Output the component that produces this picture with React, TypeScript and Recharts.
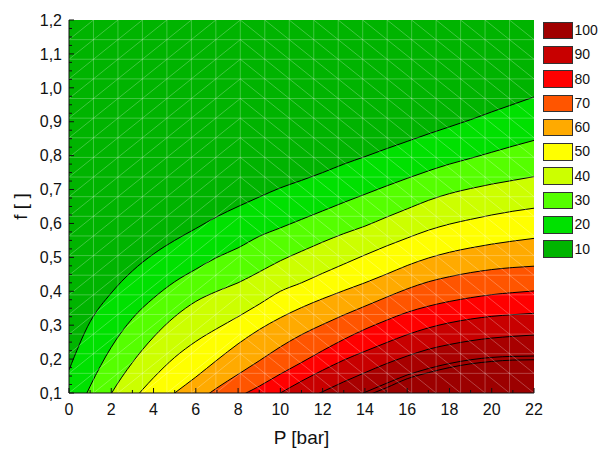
import React from 'react';
import { ComposedChart, Area, XAxis, YAxis, ReferenceLine, ReferenceArea, Legend } from 'recharts';

// ---- data ----
const pressure = [0, 1, 2, 3, 4, 5, 6, 7, 8, 9, 10, 11, 12, 13, 14, 15, 16, 17, 18, 19, 20, 21, 22];

// contour lines f(P) for each level (values below 0.1 fall outside the plotted range)
const c10 = [0.168, 0.31, 0.395, 0.46, 0.51, 0.55, 0.585, 0.62, 0.65, 0.678, 0.705, 0.727, 0.75, 0.775, 0.797, 0.82, 0.842, 0.864, 0.885, 0.906, 0.929, 0.951, 0.973];
const c20 = [-0.02, 0.12, 0.235, 0.32, 0.38, 0.428, 0.465, 0.5, 0.528, 0.562, 0.587, 0.612, 0.637, 0.662, 0.686, 0.71, 0.733, 0.755, 0.775, 0.792, 0.81, 0.828, 0.845];
const c30 = [-0.15, -0.02, 0.098, 0.19, 0.265, 0.325, 0.37, 0.4, 0.425, 0.457, 0.49, 0.518, 0.545, 0.57, 0.592, 0.618, 0.643, 0.668, 0.688, 0.703, 0.716, 0.727, 0.738];
const c40 = [-0.17, -0.09, -0.01, 0.075, 0.145, 0.205, 0.252, 0.29, 0.325, 0.362, 0.4, 0.425, 0.453, 0.48, 0.507, 0.533, 0.557, 0.58, 0.598, 0.612, 0.625, 0.636, 0.645];
const c50 = [-0.15, -0.1, -0.05, 0.0, 0.05, 0.1, 0.147, 0.197, 0.245, 0.287, 0.322, 0.352, 0.378, 0.402, 0.425, 0.45, 0.476, 0.498, 0.515, 0.528, 0.539, 0.548, 0.556];
const c60 = [-0.2, -0.16, -0.12, -0.08, -0.03, 0.02, 0.07, 0.115, 0.155, 0.195, 0.236, 0.272, 0.302, 0.33, 0.356, 0.382, 0.407, 0.428, 0.443, 0.455, 0.464, 0.47, 0.474];
const c70 = [-0.2, -0.17, -0.14, -0.11, -0.08, -0.045, -0.01, 0.045, 0.087, 0.12, 0.156, 0.19, 0.225, 0.258, 0.288, 0.314, 0.338, 0.356, 0.37, 0.381, 0.39, 0.396, 0.401];
const c80 = [-0.2, -0.18, -0.16, -0.14, -0.11, -0.08, -0.05, -0.01, 0.03, 0.065, 0.1, 0.135, 0.167, 0.197, 0.223, 0.248, 0.272, 0.292, 0.307, 0.318, 0.326, 0.331, 0.335];
const c90 = [-0.2, -0.19, -0.18, -0.17, -0.15, -0.13, -0.1, -0.07, -0.03, 0.01, 0.045, 0.074, 0.104, 0.133, 0.16, 0.186, 0.209, 0.229, 0.243, 0.254, 0.262, 0.267, 0.271];
const c100 = [-0.2, -0.2, -0.19, -0.18, -0.17, -0.16, -0.14, -0.12, -0.09, -0.05, -0.01, 0.02, 0.05, 0.076, 0.102, 0.128, 0.153, 0.172, 0.187, 0.198, 0.205, 0.208, 0.209];
const c110 = [-0.2, -0.2, -0.19, -0.18, -0.17, -0.16, -0.15, -0.13, -0.1, -0.07, -0.04, 0.0, 0.03, 0.065, 0.09, 0.115, 0.142, 0.16, 0.175, 0.186, 0.193, 0.197, 0.198];

const contourKeys = ['c10', 'c20', 'c30', 'c40', 'c50', 'c60', 'c70', 'c80', 'c90', 'c100', 'c110'];
const contourValues = [c10, c20, c30, c40, c50, c60, c70, c80, c90, c100, c110];
// fill of the band lying below each contour line
const bandFills = ['#00e100', '#55ff00', '#ccff00', '#ffff00', '#ffaa00', '#ff5500', '#ff0000', '#c80000', '#a80000', '#a20000', '#9c0000'];
const topFill = '#00b400';

const legendLabels = ['100', '90', '80', '70', '60', '50', '40', '30', '20', '10'];
const legendColors = ['#a00000', '#c80000', '#ff0000', '#ff5500', '#ffaa00', '#ffff00', '#ccff00', '#55ff00', '#00e100', '#00b400'];

const xLabels = [0, 2, 4, 6, 8, 10, 12, 14, 16, 18, 20, 22];
const yLabels = [0.1, 0.2, 0.3, 0.4, 0.5, 0.6, 0.7, 0.8, 0.9, 1.0, 1.1, 1.2];

const rows = pressure.map((p, i) => {
  const r: any = { P: p };
  contourKeys.forEach((k, j) => { r[k] = contourValues[j][i]; });
  return r;
});

// axis tick sets (major + minor)
const xMin = 0, xMax = 22, yMin = 0.1, yMax = 1.2;
const xBottomTicks = Array.from({ length: 23 }, (_, i) => i);
const xTopTicks = Array.from({ length: 45 }, (_, i) => i * 0.5);
const yLeftTicks = Array.from({ length: 45 }, (_, i) => +(0.1 + i * 0.025).toFixed(3));
const yRightTicks = Array.from({ length: 23 }, (_, i) => +(0.1 + i * 0.05).toFixed(3));

// interpolation mesh (decorative)
const meshN = 19;
const meshP = (i: number) => xMin + (i * (xMax - xMin)) / meshN;
const meshF = (j: number) => yMin + (j * (yMax - yMin)) / meshN;
const splitCol = 7;
const meshSegments: { x1: number; y1: number; x2: number; y2: number }[] = [];
for (let d = -(meshN - 1); d < splitCol; d++) {
  const i0 = Math.max(0, d);
  const j0 = i0 - d;
  const k = Math.min(splitCol - i0, meshN - j0);
  if (k > 0) meshSegments.push({ x1: meshP(i0), y1: meshF(j0), x2: meshP(i0 + k), y2: meshF(j0 + k) });
}
for (let s = splitCol + 1; s < 2 * meshN; s++) {
  const i0 = Math.max(splitCol, s - meshN);
  const i1 = Math.min(meshN, s);
  if (i1 > i0) meshSegments.push({ x1: meshP(i0), y1: meshF(s - i0), x2: meshP(i1), y2: meshF(s - i1) });
}
const meshInner = Array.from({ length: meshN - 1 }, (_, i) => i + 1);

const FONT = '"Liberation Sans", Arial, sans-serif';
const TXT = '#111';
const TICK_FS = 16;
const TITLE_FS = 19;
const meshStroke = { stroke: '#ffffff', strokeOpacity: 0.25, strokeWidth: 1 };

const isMajorX = (v: number) => xLabels.includes(v);
const isMajorY = (v: number) => yLabels.some((l) => Math.abs(l - v) < 1e-6);
const fmtY = (v: number) => v.toFixed(1).replace('.', ',');

const BottomTick = (props: any) => {
  const { x, y, payload } = props;
  const v = payload.value;
  const major = isMajorX(v);
  return (
    <g>
      <line x1={x} y1={y} x2={x} y2={y - (major ? 5 : 3)} stroke="#111" />
      {major && (
        <text x={x} y={y + 22} textAnchor="middle" fontSize={TICK_FS} fontFamily={FONT} fill={TXT}>{v}</text>
      )}
    </g>
  );
};
const TopTick = (props: any) => {
  const { x, y, payload } = props;
  const major = Number.isInteger(payload.value);
  return <line x1={x} y1={y} x2={x} y2={y + (major ? 4 : 3)} stroke="#111" />;
};
const LeftTick = (props: any) => {
  const { x, y, payload } = props;
  const v = payload.value;
  const major = isMajorY(v);
  return (
    <g>
      <line x1={x} y1={y} x2={x + (major ? 5 : 3)} y2={y} stroke="#111" />
      {major && (
        <text x={x - 7} y={y} dy="0.36em" textAnchor="end" fontSize={TICK_FS} fontFamily={FONT} fill={TXT}>{fmtY(v)}</text>
      )}
    </g>
  );
};
const RightTick = (props: any) => {
  const { x, y, payload } = props;
  const major = isMajorY(payload.value);
  return <line x1={x} y1={y} x2={x - (major ? 5 : 3)} y2={y} stroke="#111" />;
};

const XTitle = (props: any) => {
  const vb = props.viewBox || { x: 61, y: 385, width: 465, height: 56 };
  const cx = vb.x + vb.width / 2;
  return (
    <text x={cx} y={vb.y + 51} textAnchor="middle" fontSize={TITLE_FS} fontFamily={FONT} fill={TXT}>P [bar]</text>
  );
};
const YTitle = (props: any) => {
  const vb = props.viewBox || { x: 0, y: 12, width: 61, height: 373 };
  const cx = vb.x + 12;
  const cy = vb.y + vb.height / 2;
  return (
    <text x={cx} y={cy} transform={`rotate(-90 ${cx} ${cy})`} textAnchor="middle" dominantBaseline="central" fontSize={TITLE_FS} fontFamily={FONT} fill={TXT}>f [ ]</text>
  );
};

const LegendContent = () => (
  <div style={{ display: 'flex', flexDirection: 'column' }}>
    {legendLabels.map((l, i) => (
      <div key={l} style={{ display: 'flex', alignItems: 'center', height: 17.6, marginBottom: 6.7 }}>
        <div style={{ flex: 'none', width: 30, height: 17.6, boxSizing: 'border-box', background: legendColors[i], border: '1.3px solid #333' }} />
        <span style={{ marginLeft: 1.5, fontSize: 14, lineHeight: '17px', whiteSpace: 'nowrap', fontFamily: FONT, color: TXT }}>{l}</span>
      </div>
    ))}
  </div>
);

export default function App() {
  return (
    <div style={{ width: 594, height: 441, position: 'relative' }}>
      <style>{'html,body{width:594px;min-width:594px;} #root{width:594px;height:441px;}'}</style>
      <ComposedChart width={594} height={441} data={rows} margin={{ top: 12, right: 68, bottom: 0, left: 0 }}>
        <XAxis dataKey="P" type="number" domain={[xMin, xMax]} allowDataOverflow ticks={xBottomTicks} interval={0}
          tick={<BottomTick />} tickSize={0} tickMargin={0} tickLine={false} axisLine={{ stroke: '#111' }} height={56}
          label={<XTitle />} />
        <XAxis xAxisId="top" dataKey="P" orientation="top" type="number" domain={[xMin, xMax]} allowDataOverflow
          ticks={xTopTicks} interval={0} tick={<TopTick />} tickSize={0} tickMargin={0} tickLine={false}
          axisLine={{ stroke: '#111' }} height={0} />
        <YAxis type="number" domain={[yMin, yMax]} allowDataOverflow ticks={yLeftTicks} interval={0}
          tick={<LeftTick />} tickSize={0} tickMargin={0} tickLine={false} axisLine={{ stroke: '#111' }} width={61}
          label={<YTitle />} />
        <YAxis yAxisId="right" orientation="right" type="number" domain={[yMin, yMax]} allowDataOverflow
          ticks={yRightTicks} interval={0} tick={<RightTick />} tickSize={0} tickMargin={0} tickLine={false}
          axisLine={{ stroke: '#111' }} width={0} />
        <ReferenceArea x1={xMin} x2={xMax} y1={yMin} y2={yMax} fill={topFill} fillOpacity={1} stroke="none" />
        {contourKeys.map((k, j) => (
          <Area key={k} dataKey={k} type="monotone" fill={bandFills[j]} fillOpacity={1} stroke="#000"
            strokeWidth={1} isAnimationActive={false} dot={false} activeDot={false} legendType="none" />
        ))}
        {meshInner.map((i) => (
          <ReferenceLine key={'mx' + i} x={meshP(i)} {...meshStroke} />
        ))}
        {meshInner.map((j) => (
          <ReferenceLine key={'my' + j} y={meshF(j)} {...meshStroke} />
        ))}
        {meshSegments.map((s, i) => (
          <ReferenceLine key={'md' + i} segment={[{ x: s.x1, y: s.y1 }, { x: s.x2, y: s.y2 }]} {...meshStroke} />
        ))}
        <Legend layout="vertical" align="center" verticalAlign="middle" content={<LegendContent />}
          wrapperStyle={{ left: 535, top: 13.7, width: 59, height: 'auto' }} />
      </ComposedChart>
    </div>
  );
}
